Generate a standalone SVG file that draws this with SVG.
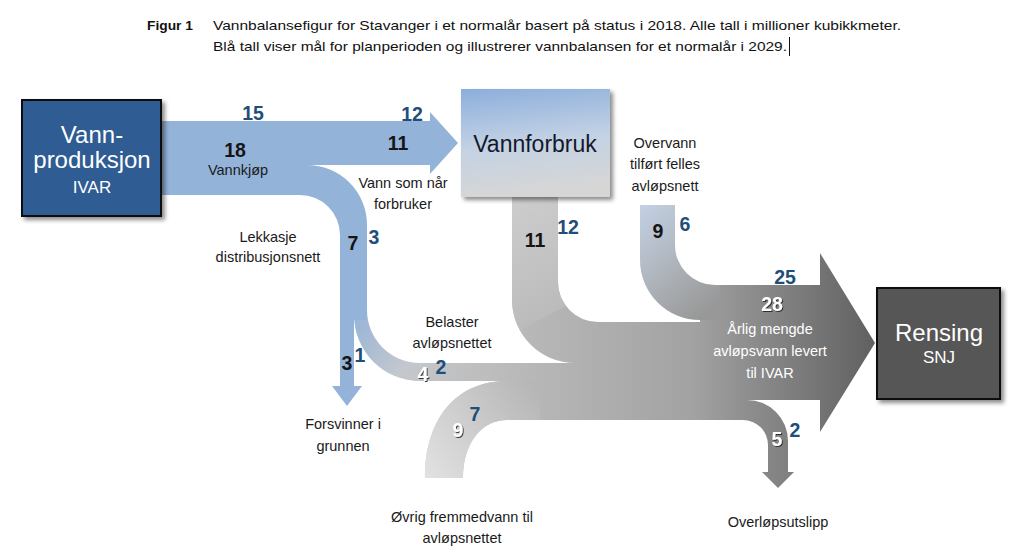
<svg xmlns="http://www.w3.org/2000/svg" width="1015" height="555" viewBox="0 0 1015 555">
<style>
.t{font-family:"Liberation Sans",Arial,sans-serif;}
.lbl{font-family:"Liberation Sans",Arial,sans-serif;font-size:14.5px;fill:#1a1a1a;text-anchor:middle;}
.wl{font-family:"Liberation Sans",Arial,sans-serif;font-size:14.5px;fill:#ffffff;text-anchor:middle;}
.n{font-family:"Liberation Sans",Arial,sans-serif;font-size:19.5px;font-weight:bold;text-anchor:middle;}
.nb{fill:#1f4e79;}
.nk{fill:#151515;}
.nw{fill:#ffffff;filter:url(#ts);}
</style>
<defs>
<filter id="sh" x="-10%" y="-10%" width="130%" height="130%">
<feDropShadow dx="3" dy="3" stdDeviation="2" flood-color="#000" flood-opacity="0.45"/>
</filter>
<filter id="ts" x="-20%" y="-20%" width="150%" height="150%">
<feDropShadow dx="1" dy="1" stdDeviation="0.6" flood-color="#222" flood-opacity="0.9"/>
</filter>
<linearGradient id="gMain" gradientUnits="userSpaceOnUse" x1="420" y1="0" x2="875" y2="0">
<stop offset="0" stop-color="#c6c6c6"/>
<stop offset="0.6" stop-color="#a2a2a2"/>
<stop offset="1" stop-color="#606060"/>
</linearGradient>
<linearGradient id="gBel" gradientUnits="userSpaceOnUse" x1="354" y1="305" x2="470" y2="381">
<stop offset="0" stop-color="#94b3d9"/>
<stop offset="0.55" stop-color="#c4c8ce"/>
<stop offset="1" stop-color="#bebebe"/>
</linearGradient>
<linearGradient id="gOvr" gradientUnits="userSpaceOnUse" x1="425" y1="478" x2="540" y2="395">
<stop offset="0" stop-color="#e2e2e2"/>
<stop offset="1" stop-color="#b6b6b6"/>
</linearGradient>
<linearGradient id="gOv" gradientUnits="userSpaceOnUse" x1="640" y1="205" x2="720" y2="300">
<stop offset="0" stop-color="#c3d1e4"/>
<stop offset="0.5" stop-color="#b0b6be"/>
<stop offset="1" stop-color="#989898"/>
</linearGradient>
<linearGradient id="gVf" gradientUnits="userSpaceOnUse" x1="512" y1="197" x2="558" y2="330">
<stop offset="0" stop-color="#d2d2d2"/>
<stop offset="1" stop-color="#bababa"/>
</linearGradient>
<linearGradient id="gBox" x1="0" y1="0" x2="0.15" y2="1">
<stop offset="0" stop-color="#8caedc"/>
<stop offset="0.55" stop-color="#c3d2e4"/>
<stop offset="1" stop-color="#d6d6d6"/>
</linearGradient>
</defs>
<rect width="1015" height="555" fill="#ffffff"/>

<g id="title" class="t" fill="#111">
<text x="147" y="30" font-size="13.5" font-weight="bold" textLength="46" lengthAdjust="spacingAndGlyphs">Figur 1</text>
<text x="213" y="30" font-size="13.5" textLength="688" lengthAdjust="spacingAndGlyphs">Vannbalansefigur for Stavanger i et normalår basert på status i 2018. Alle tall i millioner kubikkmeter.</text>
<text x="213" y="51" font-size="13.5" textLength="574" lengthAdjust="spacingAndGlyphs">Blå tall viser mål for planperioden og illustrerer vannbalansen for et normalår i 2029.</text>
<line x1="789.5" y1="37" x2="789.5" y2="56" stroke="#111" stroke-width="1"/>
</g>

<g id="connectors">
<path id="flow-gray" fill="url(#gMain)" d="M512,197 H558 V282 A40,40 0 0 0 598,322 H700 V285 H820 V253 L875,343 L820,432 V400 H747 A41,41 0 0 1 788,441 V472 H794 L778,488 L762,472 H768 V445 A25,25 0 0 0 743,420 H507 C480,420 463,445 463,478 H425 C425,420 455,381 507,381 H470 V363 H575 A63,63 0 0 1 512,300 Z"/>
<path id="flow-vannforbruk" fill="url(#gVf)" d="M512,197 H558 V282 A40,40 0 0 0 566,306 L520,330 A63,63 0 0 1 512,300 Z" opacity="0.8"/>
<path id="flow-ovrig" fill="url(#gOvr)" d="M507,381 H540 V420 H507 C480,420 463,445 463,478 H425 C425,420 455,381 507,381 Z"/>
<path id="flow-overvann" fill="url(#gOv)" d="M640,205 H675 V245 A40,40 0 0 0 715,285 H720 V320 H700 A60,60 0 0 1 640,260 Z"/>
<path id="flow-belaster" fill="url(#gBel)" d="M354,300 H367 V310 A53,53 0 0 0 420,363 H480 V381 H420 A66,66 0 0 1 354,315 Z"/>
<path id="flow-blue" fill="#94b3d9" d="M161,121 H430 V112 L458,143 L430,174 V165 H307 A60,60 0 0 1 367,225 V320 H354 V386 H362 L347,406 L332,386 H340 V235 A40,40 0 0 0 300,195 H161 Z"/>
</g>

<g id="node-vannproduksjon">
<rect x="22" y="100" width="139" height="116" fill="#2f5b93" stroke="#0d0d0d" stroke-width="2" filter="url(#sh)"/>
<text class="t" x="92" y="143" font-size="24" fill="#fff" text-anchor="middle">Vann-</text>
<text class="t" x="92" y="168" font-size="24" fill="#fff" text-anchor="middle">produksjon</text>
<text class="t" x="92" y="193" font-size="17" fill="#fff" text-anchor="middle">IVAR</text>
</g>

<g id="node-vannforbruk">
<rect x="461" y="89" width="149" height="108" fill="url(#gBox)" filter="url(#sh)"/>
<text class="t" x="535" y="152" font-size="23" fill="#14182a" text-anchor="middle">Vannforbruk</text>
</g>

<g id="node-rensing">
<rect x="877" y="288" width="123" height="111" fill="#565656" stroke="#0d0d0d" stroke-width="2" filter="url(#sh)"/>
<text class="t" x="939" y="341" font-size="24" fill="#fff" text-anchor="middle">Rensing</text>
<text class="t" x="939" y="363" font-size="17" fill="#fff" text-anchor="middle">SNJ</text>
</g>

<g id="labels">
<text class="lbl" x="238" y="175">Vannkjøp</text>
<text class="lbl" x="403" y="188">Vann som når</text>
<text class="lbl" x="403" y="209">forbruker</text>
<text class="lbl" x="268" y="242">Lekkasje</text>
<text class="lbl" x="268" y="262">distribusjonsnett</text>
<text class="lbl" x="452" y="327">Belaster</text>
<text class="lbl" x="452" y="348">avløpsnettet</text>
<text class="lbl" x="343" y="429">Forsvinner i</text>
<text class="lbl" x="343" y="451">grunnen</text>
<text class="lbl" x="462" y="522">Øvrig fremmedvann til</text>
<text class="lbl" x="462" y="543">avløpsnettet</text>
<text class="lbl" x="665" y="148">Overvann</text>
<text class="lbl" x="665" y="169">tilført felles</text>
<text class="lbl" x="665" y="191">avløpsnett</text>
<text class="wl" x="770" y="334">Årlig mengde</text>
<text class="wl" x="770" y="356">avløpsvann levert</text>
<text class="wl" x="770" y="378">til IVAR</text>
<text class="lbl" x="778" y="527">Overløpsutslipp</text>
</g>

<g id="numbers">
<text class="n nb" x="253" y="120">15</text>
<text class="n nb" x="412" y="121">12</text>
<text class="n nk" x="398" y="150">11</text>
<text class="n nk" x="235" y="157">18</text>
<text class="n nk" x="353" y="250">7</text>
<text class="n nb" x="374" y="244">3</text>
<text class="n nk" x="347" y="370">3</text>
<text class="n nb" x="360" y="362">1</text>
<text class="n nw" x="423" y="381">4</text>
<text class="n nb" x="441" y="374">2</text>
<text class="n nw" x="458" y="437">9</text>
<text class="n nb" x="475" y="421">7</text>
<text class="n nk" x="535" y="247">11</text>
<text class="n nb" x="568" y="234">12</text>
<text class="n nk" x="658" y="238">9</text>
<text class="n nb" x="685" y="231">6</text>
<text class="n nb" x="785" y="284">25</text>
<text class="n nw" x="772" y="311">28</text>
<text class="n nw" x="777" y="446">5</text>
<text class="n nb" x="795" y="437">2</text>
</g>
</svg>
